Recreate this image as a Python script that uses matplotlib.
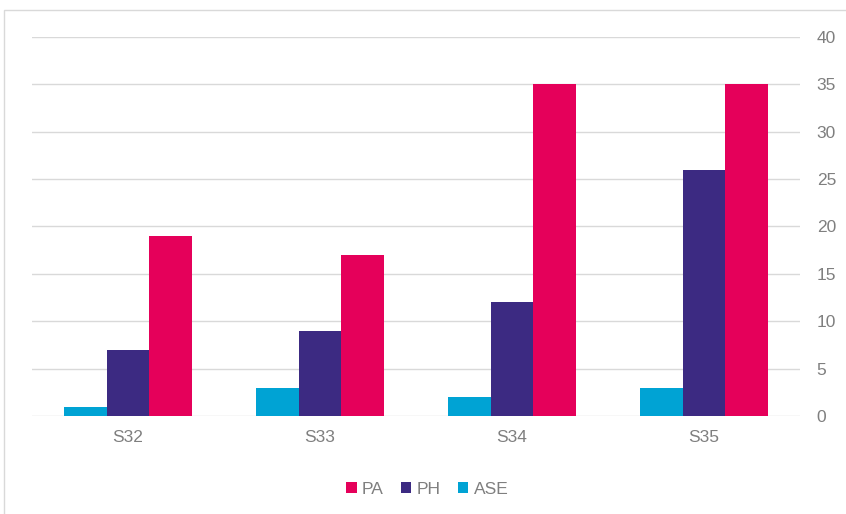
import matplotlib
matplotlib.use("Agg")
import matplotlib.pyplot as plt
import numpy as np
from matplotlib.patches import Rectangle

plt.rcParams['font.family'] = ['Liberation Sans', 'DejaVu Sans']

categories = ["S32", "S33", "S34", "S35"]
series_names = ["ASE", "PH", "PA"]
ase = [1, 3, 2, 3]
ph = [7, 9, 12, 26]
pa = [19, 17, 35, 35]
y_ticks = [0, 5, 10, 15, 20, 25, 30, 35, 40]

colors = {"ASE": "#00A3D4", "PH": "#3C2A82", "PA": "#E5005A"}
values = {"ASE": ase, "PH": ph, "PA": pa}

fig = plt.figure(figsize=(8.46, 5.14), dpi=100)
ax = fig.add_axes([32 / 846, 0.1907, 768 / 846, 0.7373])

x = np.arange(len(categories))
width = 0.221
offsets = {"ASE": -width, "PH": 0.0, "PA": width}
bars = {}
for name in series_names:
    bars[name] = ax.bar(x + offsets[name], values[name], width,
                        color=colors[name], zorder=3, label=name)

ax.set_xlim(-0.5, len(categories) - 0.5)
ax.set_ylim(0, 40)
ax.set_yticks(y_ticks)
ax.yaxis.tick_right()
ax.grid(axis='y', color='#D9D9D9', linewidth=1, zorder=0)
ax.set_xticks(x)
ax.set_xticklabels(categories)
for s in ax.spines.values():
    s.set_visible(False)
ax.tick_params(axis='both', length=0, colors='#7F7F7F', labelsize=12.5)
ax.tick_params(axis='y', pad=12)
ax.tick_params(axis='x', pad=10)

handles = [bars["PA"], bars["PH"], bars["ASE"]]
labels = ["PA", "PH", "ASE"]
leg = fig.legend(handles, labels, loc='center', bbox_to_anchor=(0.505, 0.048),
                 ncol=3, frameon=False, fontsize=12.5, handlelength=0.6,
                 handleheight=0.6, handletextpad=0.3, columnspacing=1.0)
for t in leg.get_texts():
    t.set_color('#7F7F7F')

# outer chart frame
fig.patches.append(Rectangle((4 / 846, -0.1), 1.2, 1 - 10 / 514 + 0.1,
                             transform=fig.transFigure, fill=False,
                             edgecolor='#D9D9D9', linewidth=1))

fig.savefig("out.png", dpi=100)
